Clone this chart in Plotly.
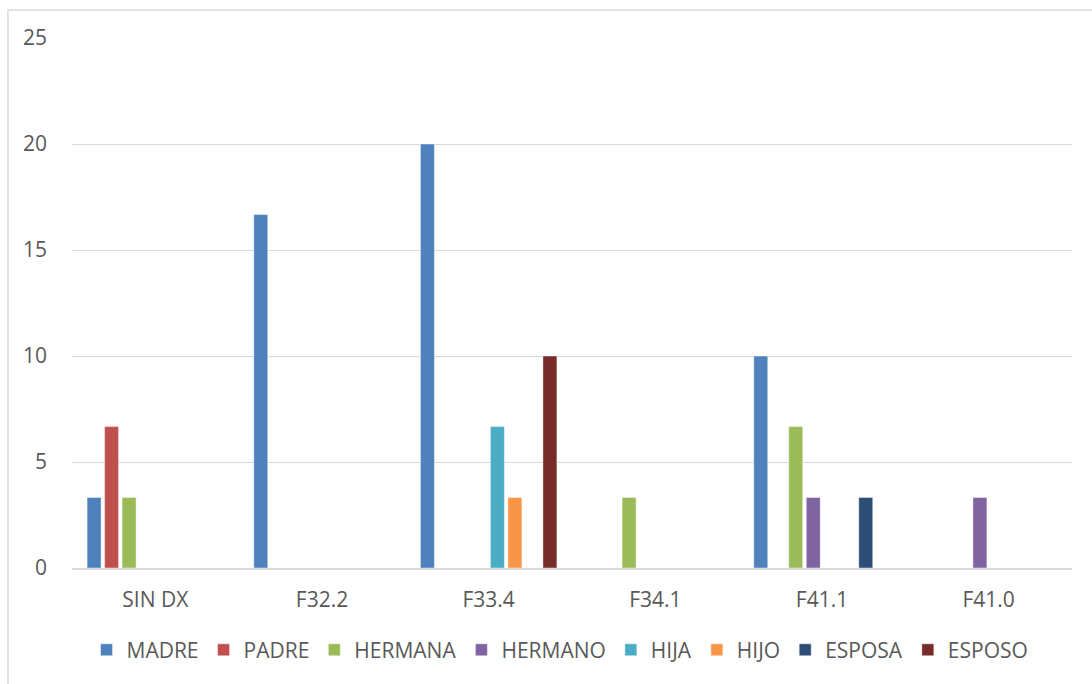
import plotly.graph_objects as go

categories = ["SIN DX", "F32.2", "F33.4", "F34.1", "F41.1", "F41.0"]

madre = [3.33, 16.67, 20.0, None, 10.0, None]
padre = [6.67, None, None, None, None, None]
hermana = [3.33, None, None, 3.33, 6.67, None]
hermano = [None, None, None, None, 3.33, 3.33]
hija = [None, None, 6.67, None, None, None]
hijo = [None, None, 3.33, None, None, None]
esposa = [None, None, None, None, 3.33, None]
esposo = [None, None, 10.0, None, None, None]

series = [
    ("MADRE", madre, "#4f81bd"),
    ("PADRE", padre, "#c0504d"),
    ("HERMANA", hermana, "#9bbb59"),
    ("HERMANO", hermano, "#8064a2"),
    ("HIJA", hija, "#4bacc6"),
    ("HIJO", hijo, "#f79646"),
    ("ESPOSA", esposa, "#2c4d75"),
    ("ESPOSO", esposo, "#772c2a"),
]

y_ticks = [0, 5, 10, 15, 20, 25]

fig = go.Figure()
for name, vals, color in series:
    fig.add_trace(go.Bar(
        name=name, x=categories, y=vals,
        marker=dict(color=color, line=dict(color="rgba(255,255,255,0.45)", width=1)),
    ))

font_family = "Open Sans, Liberation Sans, sans-serif"
txt = "#595959"

fig.update_layout(
    width=1092, height=684,
    margin=dict(l=72, r=20, t=38, b=116),
    paper_bgcolor="white", plot_bgcolor="white",
    barmode="group", bargap=0.16, bargroupgap=0.2,
    font=dict(family=font_family, size=21, color=txt),
    xaxis=dict(showgrid=False, showline=True, linecolor="#d9d9d9", linewidth=1.5,
               ticks="", tickfont=dict(size=21, color=txt), ticklabelstandoff=12),
    yaxis=dict(range=[0, 25], tickvals=y_ticks, showgrid=True, gridcolor="#d9d9d9",
               gridwidth=1, zeroline=False, showline=False, ticks="",
               tickfont=dict(size=21, color=txt), ticklabelstandoff=24),
    legend=dict(orientation="h", x=0.488, xanchor="center", y=-0.155, yanchor="middle",
                font=dict(size=21, color=txt), itemwidth=30, traceorder="normal"),
    showlegend=True,
    shapes=[dict(type="rect", xref="paper", yref="paper",
                 x0=-0.064, x1=1.05, y0=-0.3, y1=1.0528,
                 line=dict(color="#d9d9d9", width=1.5), fillcolor="rgba(0,0,0,0)",
                 layer="below")],
)

fig.write_html("out.html")
